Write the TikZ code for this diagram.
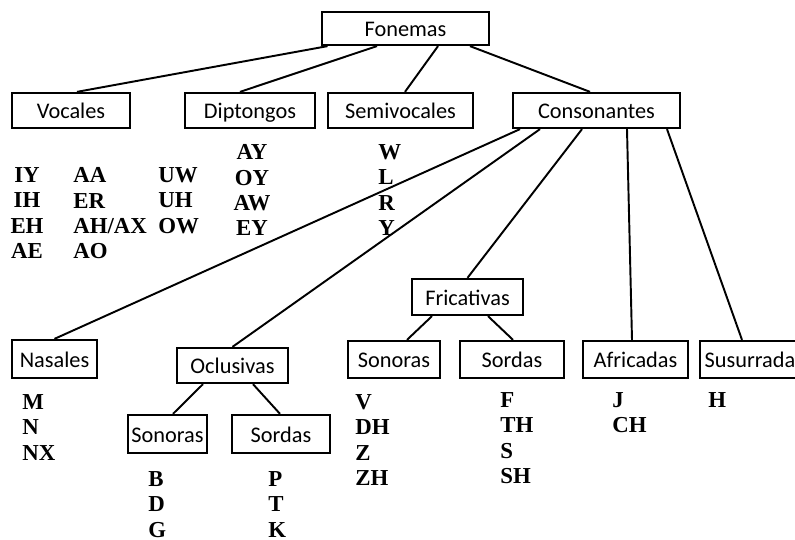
\documentclass[tikz,border=0pt]{standalone}
\usepackage{fontspec}
\setmainfont{Liberation Serif}
\newfontfamily\cajafont{Carlito}
\usetikzlibrary{calc}

\begin{document}
\begin{tikzpicture}[x=0.02cm,y=-0.02cm,
  caja/.style={draw,line width=1.3pt,inner sep=0pt,minimum height=0.7cm,
    text height=10.5pt,text depth=1pt,
    font=\cajafont\fontsize{12.7}{15}\selectfont},
  fon/.style={inner sep=0pt,anchor=north west,align=left,
    font=\bfseries\fontsize{13}{14.3}\selectfont},
  rama/.style={line width=1.1pt}]
\useasboundingbox (0,0) rectangle (795,540);
% cajas
\node [caja,minimum width=3.34cm,minimum height=0.66cm] (fonemas) at (405.5,28.5) {Fonemas};
\node [caja,minimum width=2.36cm] (vocales) at (71,110.5) {Vocales};
\node [caja,minimum width=2.6cm] (diptongos) at (250,110.5) {Diptongos};
\node [caja,minimum width=2.9cm] (semivocales) at (400.5,110.5) {Semivocales};
\node [caja,minimum width=3.34cm] (consonantes) at (596.5,110.5) {Consonantes};
\node [caja,minimum width=1.7cm,minimum height=0.76cm] (nasales) at (54.5,359) {Nasales};
\node [caja,minimum width=2.22cm] (oclusivas) at (232.5,365.5) {Oclusivas};
\node [caja,minimum width=1.58cm,minimum height=0.76cm] (ocl-sonoras) at (167.5,434) {Sonoras};
\node [caja,minimum width=1.96cm,minimum height=0.76cm] (ocl-sordas) at (281,434) {Sordas};
\node [caja,minimum width=2.22cm,minimum height=0.72cm] (fricativas) at (467.5,297) {Fricativas};
\node [caja,minimum width=1.84cm,minimum height=0.74cm] (fri-sonoras) at (394,359.5) {Sonoras};
\node [caja,minimum width=2.08cm,minimum height=0.74cm] (fri-sordas) at (512,359.5) {Sordas};
\node [caja,minimum width=2.1cm,minimum height=0.74cm] (africadas) at (635.5,359.5) {Africadas};
\node [caja,minimum width=2cm,minimum height=0.74cm] (susurrada) at (750,359.5) {Susurrada};
% ramas
\draw [rama] ($(fonemas.south)+(-78,0)$) -- ($(vocales.north)+(6,0)$);
\draw [rama] ($(fonemas.south)+(-28.5,0)$) -- ($(diptongos.north)+(-10,0)$);
\draw [rama] ($(fonemas.south)+(32.5,0)$) -- ($(semivocales.north)+(4.5,0)$);
\draw [rama] ($(fonemas.south)+(64.5,0)$) -- ($(consonantes.north)+(-6.5,0)$);
\draw [rama] ($(consonantes.south)+(-76.5,0)$) -- (nasales.north);
\draw [rama] ($(consonantes.south)+(-56.5,0)$) -- (oclusivas.north);
\draw [rama] ($(consonantes.south)+(-14.5,0)$) -- (fricativas.north);
\draw [rama] ($(consonantes.south)+(30.5,0)$) -- ($(africadas.north)+(-3.5,0)$);
\draw [rama] ($(consonantes.south)+(70.5,0)$) -- ($(susurrada.north)+(-8,0)$);
\draw [rama] ($(oclusivas.south)+(-29.5,0)$) -- ($(ocl-sonoras.north)+(5.5,0)$);
\draw [rama] ($(oclusivas.south)+(20.5,0)$) -- ($(ocl-sordas.north)+(-1,0)$);
\draw [rama] ($(fricativas.south)+(-35.5,0)$) -- ($(fri-sonoras.north)+(13,0)$);
\draw [rama] ($(fricativas.south)+(20.5,0)$) -- ($(fri-sordas.north)+(1,0)$);
% fonemas
\node [fon,anchor=north,align=center] (voc-a) at (27,167.5) {IY\\IH\\EH\\AE};
\node [fon] (voc-b) at (73,167.5) {AA\\ER\\AH/AX\\AO};
\node [fon] (voc-c) at (158,167.5) {UW\\UH\\OW};
\node [fon,anchor=north,align=center] (dip) at (252,144.5) {AY\\OY\\AW\\EY};
\node [fon] (semi) at (378,144.5) {W\\L\\R\\Y};
\node [fon] (nas) at (22,394.5) {M\\N\\NX};
\node [fon] (ocl-son) at (148,471.5) {B\\D\\G};
\node [fon] (ocl-sor) at (268,471.5) {P\\T\\K};
\node [fon] (fri-son) at (355,394.5) {V\\DH\\Z\\ZH};
\node [fon] (fri-sor) at (500,392.5) {F\\TH\\S\\SH};
\node [fon] (afr) at (612,392.5) {J\\CH};
\node [fon] (sus) at (708,392.5) {H};
\end{tikzpicture}
\end{document}
